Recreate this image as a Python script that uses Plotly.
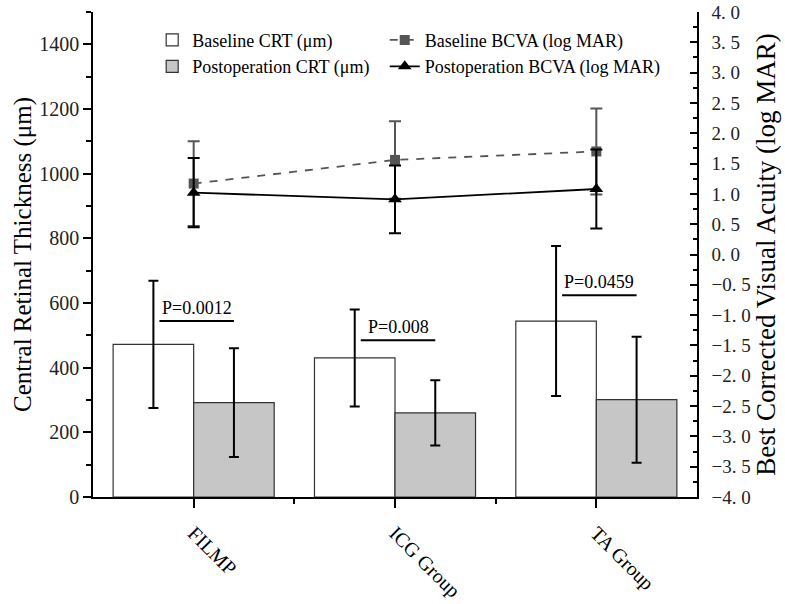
import plotly.graph_objects as go

# ---------------- data ----------------
groups = ["FILMP", "ICG Group", "TA Group"]
crt_baseline = [472, 430, 544]
crt_baseline_sd = [197, 150, 232]
crt_postop = [292, 260, 301]
crt_postop_sd = [168, 101, 195]

bcva_baseline = [1.17, 1.56, 1.70]
bcva_baseline_sd = [0.70, 0.64, 0.71]
bcva_postop = [1.02, 0.91, 1.08]
bcva_postop_sd = [0.57, 0.56, 0.65]

p_labels = ["P=0.0012", "P=0.008", "P=0.0459"]
p_heights = [544, 485, 624]

left_ticks = [0, 200, 400, 600, 800, 1000, 1200, 1400]
right_ticks = [4.0, 3.5, 3.0, 2.5, 2.0, 1.5, 1.0, 0.5, 0.0, -0.5, -1.0, -1.5,
               -2.0, -2.5, -3.0, -3.5, -4.0]

# ---------------- figure ----------------
FONT = "Liberation Serif, Times New Roman, serif"
xs = list(range(len(groups)))

def fmt(v):
    s = f"{abs(v):.1f}".replace(".", ". ")
    return ("\u2212" + s) if v < 0 else s

fig = go.Figure()

fig.add_trace(go.Bar(
    x=xs, y=crt_baseline, name="Baseline CRT (\u03bcm)",
    marker=dict(color="white", line=dict(color="#333333", width=1.2)),
    error_y=dict(type="data", array=crt_baseline_sd, color="black",
                 thickness=2, width=5),
    legend="legend", yaxis="y"))
fig.add_trace(go.Bar(
    x=xs, y=crt_postop, name="Postoperation CRT (\u03bcm)",
    marker=dict(color="#c6c6c6", line=dict(color="#333333", width=1.2)),
    error_y=dict(type="data", array=crt_postop_sd, color="black",
                 thickness=2, width=5),
    legend="legend", yaxis="y"))

fig.add_trace(go.Scatter(
    x=xs, y=bcva_baseline, name="Baseline BCVA (log MAR)",
    mode="lines+markers",
    line=dict(color="#555555", width=1.8, dash="8px,8px"),
    marker=dict(symbol="square", size=10, color="#555555"),
    error_y=dict(type="data", array=bcva_baseline_sd, color="#555555",
                 thickness=2, width=6),
    legend="legend2", yaxis="y2"))
fig.add_trace(go.Scatter(
    x=xs, y=bcva_postop, name="Postoperation BCVA (log MAR)",
    mode="lines+markers",
    line=dict(color="black", width=1.8),
    marker=dict(symbol="triangle-up", size=12, color="black"),
    error_y=dict(type="data", array=bcva_postop_sd, color="black",
                 thickness=2, width=6),
    legend="legend2", yaxis="y2"))

# P-value annotations with underline
for i, (lab, h) in enumerate(zip(p_labels, p_heights)):
    fig.add_shape(type="line", xref="x", yref="y",
                  x0=i - 0.17, x1=i + 0.20, y0=h, y1=h,
                  line=dict(color="black", width=2))
    fig.add_annotation(x=i + 0.015, y=h, xref="x", yref="y",
                       text=lab, showarrow=False, xanchor="center",
                       yanchor="bottom", yshift=1,
                       font=dict(family=FONT, size=18, color="black"))

fig.update_layout(
    width=785, height=604,
    margin=dict(l=93, r=88, t=12, b=107, autoexpand=False),
    paper_bgcolor="white", plot_bgcolor="white",
    barmode="group", bargap=0.2, bargroupgap=0,
    font=dict(family=FONT, color="black"),
    xaxis=dict(range=[-0.5, 2.5], tickmode="array", tickvals=xs,
               ticktext=groups, tickangle=45, automargin=False,
               tickfont=dict(family=FONT, size=20, color="black"),
               ticklabelstandoff=6,
               showline=True, linecolor="black", linewidth=1.5,
               ticks="outside", ticklen=9, tickwidth=1.5, tickcolor="black",
               minor=dict(tickvals=[0.5, 1.5], ticks="outside", ticklen=5,
                          tickwidth=1.5, tickcolor="black"),
               showgrid=False, zeroline=False),
    yaxis=dict(range=[0, 1500], tickmode="array", tickvals=left_ticks,
               automargin=False,
               tickfont=dict(family=FONT, size=20, color="#222222"),
               title=dict(text="Central Retinal Thickness (\u03bcm)",
                          font=dict(family=FONT, size=25, color="black"),
                          standoff=1),
               showline=True, linecolor="black", linewidth=1.5,
               ticks="outside", ticklen=8, tickwidth=1.5, tickcolor="black",
               minor=dict(dtick=100, tick0=0, ticks="outside", ticklen=5,
                          tickwidth=1.5, tickcolor="black"),
               showgrid=False, zeroline=False),
    yaxis2=dict(range=[-4, 4], overlaying="y", side="right",
                tickmode="array", tickvals=right_ticks, automargin=False,
                ticktext=[fmt(v) for v in right_ticks],
                tickfont=dict(family=FONT, size=19, color="#222222"),
                title=dict(text="Best Corrected Visual Acuity (log MAR)",
                           font=dict(family=FONT, size=27, color="black"),
                           standoff=6),
                showline=True, linecolor="black", linewidth=1.5,
                ticks="inside", ticklen=7, tickwidth=1.5, tickcolor="black",
                ticklabelstandoff=9,
                minor=dict(dtick=0.25, tick0=0, ticks="inside", ticklen=4,
                           tickwidth=1.5, tickcolor="black"),
                showgrid=False, zeroline=False),
    legend=dict(x=0.098, y=0.98, xanchor="left", yanchor="top",
                bgcolor="rgba(0,0,0,0)", tracegroupgap=0,
                font=dict(family=FONT, size=18, color="black"),
                itemwidth=30),
    legend2=dict(x=0.483, y=0.98, xanchor="left", yanchor="top",
                 bgcolor="rgba(0,0,0,0)", tracegroupgap=0,
                 font=dict(family=FONT, size=18, color="black"),
                 itemwidth=30),
    showlegend=True,
)

fig.write_html("out.html")
